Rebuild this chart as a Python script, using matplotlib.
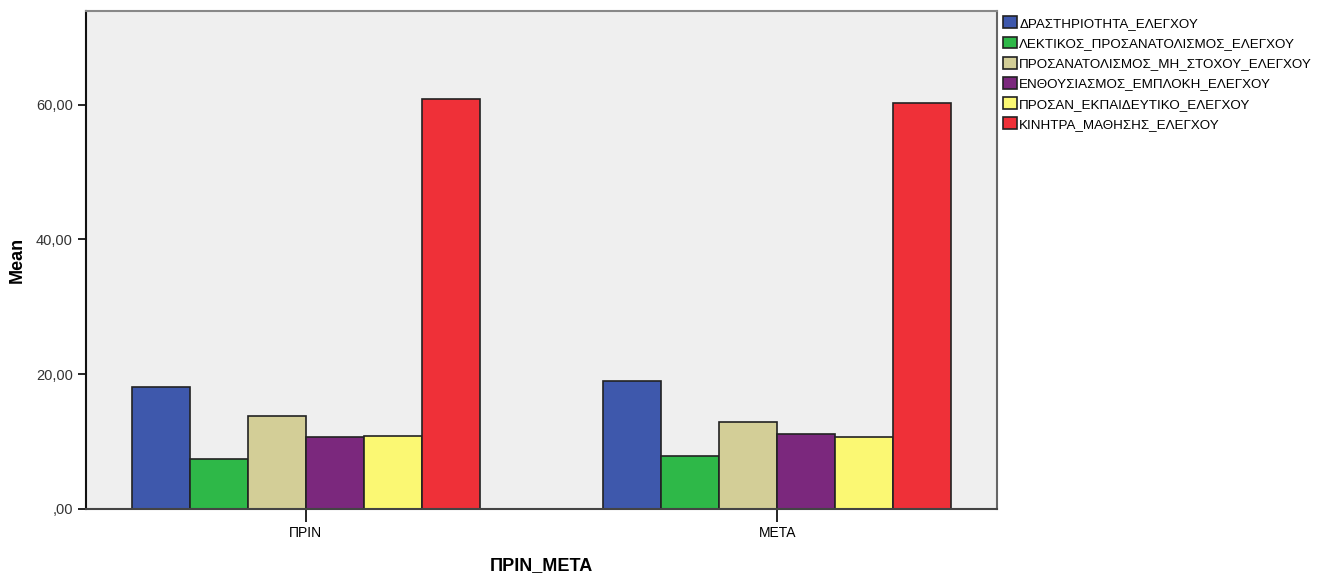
import numpy as np
import matplotlib.pyplot as plt

plt.rcParams['font.family'] = ['Liberation Sans', 'DejaVu Sans']

groups = ['ΠΡΙΝ', 'ΜΕΤΑ']
series = ['ΔΡΑΣΤΗΡΙΟΤΗΤΑ_ΕΛΕΓΧΟΥ', 'ΛΕΚΤΙΚΟΣ_ΠΡΟΣΑΝΑΤΟΛΙΣΜΟΣ_ΕΛΕΓΧΟΥ',
          'ΠΡΟΣΑΝΑΤΟΛΙΣΜΟΣ_ΜΗ_ΣΤΟΧΟΥ_ΕΛΕΓΧΟΥ', 'ΕΝΘΟΥΣΙΑΣΜΟΣ_ΕΜΠΛΟΚΗ_ΕΛΕΓΧΟΥ',
          'ΠΡΟΣΑΝ_ΕΚΠΑΙΔΕΥΤΙΚΟ_ΕΛΕΓΧΟΥ', 'ΚΙΝΗΤΡΑ_ΜΑΘΗΣΗΣ_ΕΛΕΓΧΟΥ']
prin = [18.1, 7.4, 13.8, 10.7, 10.8, 60.9]
meta = [19.0, 7.85, 12.9, 11.1, 10.7, 60.3]
colors = ['#3e58ac', '#2eb848', '#d3ce97', '#7b287d', '#fbf873', '#ef3038']

fig = plt.figure(figsize=(13.18, 5.78), dpi=100)
ax = fig.add_axes([86/1318, 1 - 509/578, 911/1318, 498/578])
ax.set_facecolor('#efefef')

x = np.arange(len(groups))
w = 0.123
for i in range(len(series)):
    vals = [prin[i], meta[i]]
    ax.bar(x + (i - 2.5) * w, vals, w, color=colors[i], edgecolor='#222222',
           linewidth=1.2, label=series[i])

ax.set_xlim(-0.466, 1.466)
ax.set_ylim(0, 73.9)
ax.set_xticks(x)
ax.set_xticklabels(groups, fontsize=10)
ax.set_yticks([0, 20, 40, 60])
ax.set_yticklabels([',00', '20,00', '40,00', '60,00'], fontsize=10.5, color='#333333')
ax.tick_params(axis='y', length=6, width=1.2, direction='out')
ax.tick_params(axis='x', length=9, width=1.2, direction='out')

ax.spines['left'].set_color('#111111')
ax.spines['bottom'].set_color('#444444')
ax.spines['top'].set_color('#888888')
ax.spines['right'].set_color('#666666')
for s in ax.spines.values():
    s.set_linewidth(1.5)

ax.set_xlabel('ΠΡΙΝ_ΜΕΤΑ', fontsize=13, fontweight='bold', labelpad=12)
ax.set_ylabel('Mean', fontsize=13, fontweight='bold', labelpad=7)

ax.legend(loc='upper left', bbox_to_anchor=(1.001, 1.0), frameon=False,
          fontsize=9.6, handlelength=1.0, handleheight=1.0, handletextpad=0.2,
          labelspacing=0.5, borderaxespad=0)

fig.savefig('out.png', dpi=100)
